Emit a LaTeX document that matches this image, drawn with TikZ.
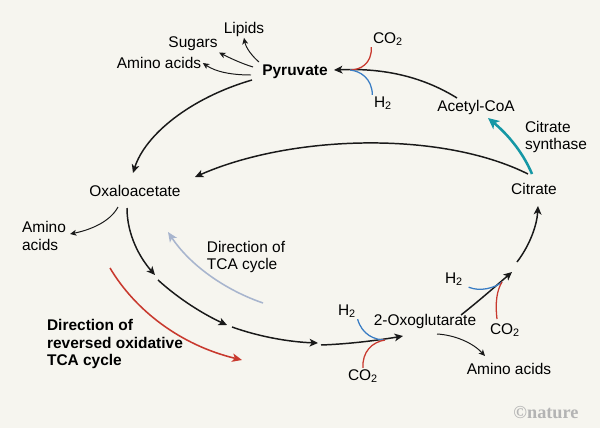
\documentclass[tikz,border=0pt]{standalone}
\usepackage{fontspec}
\setmainfont{Liberation Sans}
\newfontfamily\logofont{Liberation Serif}
\usetikzlibrary{arrows.meta}
\definecolor{paper}{HTML}{F6F5EF}
\definecolor{redpath}{HTML}{C8392E}
\definecolor{bluepath}{HTML}{3A7DC4}
\definecolor{tealpath}{HTML}{1597A5}
\definecolor{greypath}{HTML}{A8B5CE}
\definecolor{logogrey}{HTML}{B4B4B4}

\begin{document}
\begin{tikzpicture}[x=0.025cm,y=-0.025cm,font=\fontsize{11}{12.5}\selectfont]
	\tikzstyle{label}=[inner sep=1pt]
	\tikzstyle{multi}=[label, align=left]
	\tikzstyle{cycle}=[draw=black!90, line width=1.05pt, -{Stealth[length=6pt,width=5.5pt,inset=1.6pt]}]
	\tikzstyle{branch}=[draw=black!90, line width=0.7pt, -{Stealth[length=4.5pt,width=4.2pt,inset=1.2pt]}]
	\tikzstyle{gas}=[line width=0.9pt]
	\tikzstyle{direction}=[line width=1.1pt, -{Stealth[length=7pt,width=6pt,inset=1.8pt]}]

	\fill[paper] (0,0) rectangle (600,428);
	\useasboundingbox (0,0) rectangle (600,428);

	% Draw the metabolite nodes
	\node[label, font=\fontsize{11}{12.5}\selectfont\bfseries] (pyr) at (295,72) {Pyruvate};
	\node[label] (lip) at (244,29) {Lipids};
	\node[label] (sug) at (193,44) {Sugars};
	\node[label] (aaT) at (159,63) {Amino acids};
	\node[label] (co2T) at (388,39) {CO\textsubscript{2}};
	\node[label] (h2T) at (383,103) {H\textsubscript{2}};
	\node[label] (acoa) at (476,107) {Acetyl-CoA};
	\node[multi] (cs) at (556,137) {Citrate\\synthase};
	\node[label] (cit) at (534,189) {Citrate};
	\node[label] (oaa) at (135,191) {Oxaloacetate};
	\node[multi] (aaL) at (44,236) {Amino\\acids};
	\node[multi] (dtca) at (246,257) {Direction of\\TCA cycle};
	\node[multi, font=\fontsize{11}{12.5}\selectfont\bfseries] (drev) at (115,344) {Direction of\\reversed oxidative\\TCA cycle};
	\node[label] (h2L) at (347,311) {H\textsubscript{2}};
	\node[label] (co2L) at (363,376) {CO\textsubscript{2}};
	\node[label] (oxo) at (425,321) {2-Oxoglutarate};
	\node[label] (h2R) at (454,279) {H\textsubscript{2}};
	\node[label] (co2R) at (505,330) {CO\textsubscript{2}};
	\node[label] (aaB) at (509,369) {Amino acids};
	\node[label, font=\logofont\fontsize{13}{13}\selectfont\bfseries, text=logogrey] (nat) at (546,413) {\textcopyright nature};

	% Connector end points
	\coordinate (pyr-in) at (334,70);
	\coordinate (pyr-j) at (350,70);
	\coordinate (acoa-out) at (457,98);
	\coordinate (cit-out) at (528,174);
	\coordinate (cit-cs) at (532,174);
	\coordinate (acoa-in) at (488,118);
	\coordinate (oaa-in1) at (133,173);
	\coordinate (oaa-in2) at (195,177);
	\coordinate (pyr-out) at (252,80);
	\coordinate (oaa-out) at (127,208);
	\coordinate (oaa-aa) at (118,207);
	\coordinate (aaL-in) at (70,234);
	\coordinate (c1) at (155,275);
	\coordinate (c2) at (158,280);
	\coordinate (c3) at (227,325);
	\coordinate (c4) at (232,327);
	\coordinate (c5) at (318,343);
	\coordinate (c6) at (321,345);
	\coordinate (jL) at (385,340);
	\coordinate (oxo-in) at (403,336);
	\coordinate (oxo-out) at (461,315);
	\coordinate (oxo-aa) at (437,334);
	\coordinate (aaB-in) at (485,356);
	\coordinate (jR) at (502,282);
	\coordinate (c7) at (512,272);
	\coordinate (c8) at (517,262);
	\coordinate (cit-in) at (538,206);

	% Draw the cycle
	\draw[cycle] (acoa-out) .. controls (420,75) and (380,68) .. (pyr-in);
	\draw[cycle] (pyr-out) .. controls (190,98) and (145,135) .. (oaa-in1);
	\draw[cycle] (cit-out) .. controls (440,130) and (290,135) .. (oaa-in2);
	\draw[cycle] (oaa-out) .. controls (127,235) and (140,258) .. (c1);
	\draw[cycle] (c2) .. controls (180,300) and (205,315) .. (c3);
	\draw[cycle] (c4) .. controls (260,337) and (290,342) .. (c5);
	\draw[cycle] (c6) .. controls (350,344) and (380,340) .. (oxo-in);
	\draw[cycle] (oxo-out) .. controls (480,300) and (497,285) .. (c7);
	\draw[cycle] (c8) .. controls (530,245) and (537,225) .. (cit-in);
	\draw[line width=1.8pt, tealpath, -{Stealth[length=8pt,width=7.5pt,inset=2.2pt]}]
		(cit-cs) .. controls (522,150) and (505,132) .. (acoa-in);

	% Draw the branches
	\draw[branch] ([shift={(-36,-10)}]pyr.center) .. controls (252,56) and (246,48) .. (lip.south);
	\draw[branch] ([shift={(-42,-5)}]pyr.center) .. controls (240,63) and (228,57) .. (sug.south east);
	\draw[branch] ([shift={(-44,3)}]pyr.center) .. controls (232,75) and (216,72) .. (aaT.east);
	\draw[branch] (oaa-aa) .. controls (110,222) and (90,230) .. (aaL-in);
	\draw[branch] (oxo-aa) .. controls (455,335) and (473,343) .. (aaB-in);

	% Draw the CO2 and H2 inputs
	\draw[gas, redpath] (co2T.south west) .. controls (372,64) and (360,70) .. (pyr-j);
	\draw[gas, bluepath] (h2T.north west) .. controls (372,78) and (360,71) .. (pyr-j);
	\draw[gas, bluepath] (h2L.south east) .. controls (362,335) and (375,340) .. (jL);
	\draw[gas, redpath] (co2L.north) .. controls (362,352) and (372,342) .. (jL);
	\draw[gas, bluepath] ([shift={(4,0)}]h2R.south east) .. controls (480,292) and (495,288) .. (jR);
	\draw[gas, redpath] ([shift={(-8,-11)}]co2R.center) .. controls (495,302) and (497,290) .. (jR);

	% Draw the directions
	\draw[direction, greypath] ([shift={(17,46)}]dtca.center) .. controls (225,290) and (190,265) .. (168,232);
	\draw[direction, redpath] ([shift={(-5,-76)}]drev.center) .. controls (135,310) and (180,345) .. (242,360);
\end{tikzpicture}
\end{document}
